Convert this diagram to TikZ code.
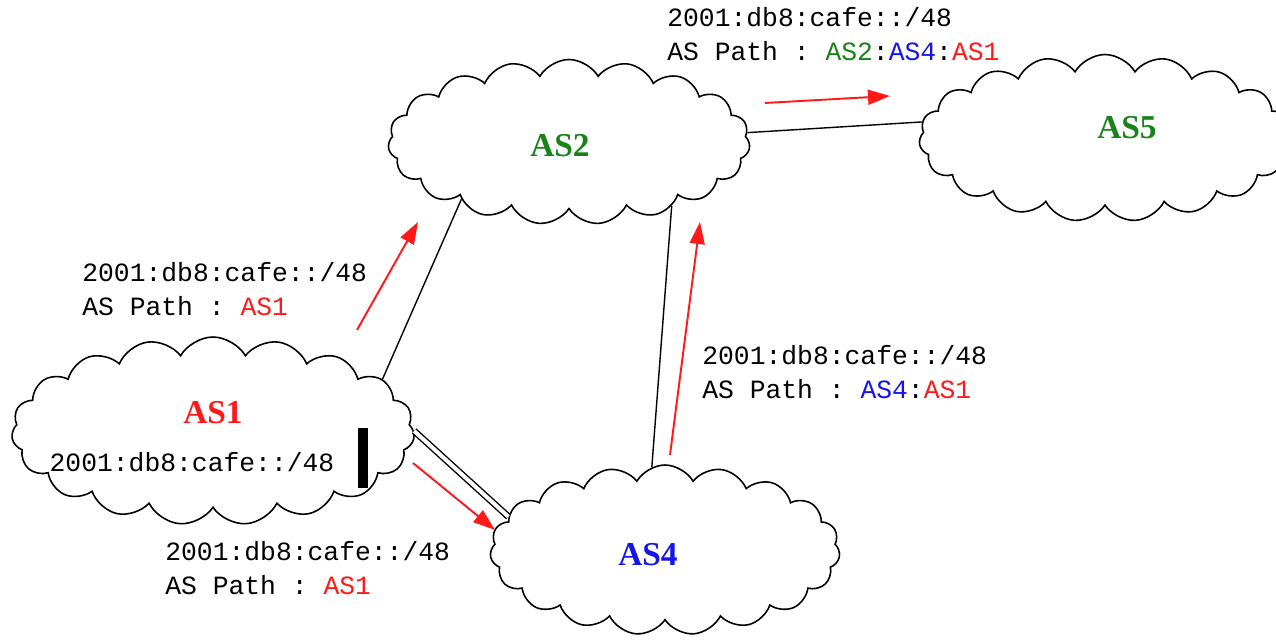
\documentclass[tikz,border=0pt]{standalone}
\usepackage{fontspec}
\setmainfont{Liberation Serif}
\setmonofont{Liberation Mono}
\usepackage{xcolor}
\usetikzlibrary{shapes.symbols,arrows.meta}
\definecolor{verde}{RGB}{25,130,25}
\definecolor{blu}{RGB}{20,20,235}
\definecolor{rosso}{RGB}{255,25,25}

\begin{document}
\begin{tikzpicture}[x=0.02cm, y=0.02cm,
    nuvola/.style={cloud, draw, line width=0.9pt, cloud puffs=19, cloud puff arc=120,
        cloud ignores aspect, inner sep=0pt},
    nomeas/.style={font=\fontsize{19}{22}\selectfont\bfseries},
    rotta/.style={font=\fontsize{15}{19.3}\selectfont\ttfamily, align=left, anchor=west, inner sep=0pt},
    annuncio/.style={-{Triangle[length=0.44cm, width=0.3cm]}, rosso, line width=1.1pt},
    link/.style={line width=0.8pt}]
                \useasboundingbox (0,0) rectangle (1276,644);

                % Nuvole
                \node[nuvola, minimum width=8.06cm, minimum height=3.76cm] (as1) at (213,213) {};
                \node[nuvola, minimum width=7.24cm, minimum height=3.3cm] (as2) at (569,502) {};
                \node[nuvola, minimum width=7.44cm, minimum height=3.34cm] (as5) at (1105,506) {};
                \node[nuvola, minimum width=7.0cm, minimum height=3.4cm] (as4) at (665,94) {};

                \node[nomeas, rosso] (as1nome) at (213,231) {AS1};
                \node[nomeas, verde] (as2nome) at (560,498) {AS2};
                \node[nomeas, verde] (as5nome) at (1127,516) {AS5};
                \node[nomeas, blu] (as4nome) at (648,89) {AS4};

                \node[font=\fontsize{15}{19.3}\selectfont\ttfamily] (as1pref) at (192,182) {2001:db8:cafe::/48};
                \fill (358,156) rectangle (368,216);

                % Collegamenti
                \draw[link] (as1.17) -- (as2.208);
                \draw[link, double, double distance=0.08cm] (as1.0) -- (as4.168);
                \draw[link] (as2.328) -- (as4.99);
                \draw[link] (as2.3) -- (as5.175);

                % Annunci
                \coordinate (a12s) at (357,314);
                \coordinate (a12e) at (418,422);
                \coordinate (a14s) at (413,181);
                \coordinate (a14e) at (495,114);
                \coordinate (a42s) at (670,189);
                \coordinate (a42e) at (700,422);
                \coordinate (a25s) at (765,541);
                \coordinate (a25e) at (890,548);
                \draw[annuncio] (a12s) -- (a12e);
                \draw[annuncio] (a14s) -- (a14e);
                \draw[annuncio] (a42s) -- (a42e);
                \draw[annuncio] (a25s) -- (a25e);

                \node[rotta] (r12) at (82,355) {2001:db8:cafe::/48\\AS Path : \textcolor{rosso}{AS1}};
                \node[rotta] (r14) at (165,76) {2001:db8:cafe::/48\\AS Path : \textcolor{rosso}{AS1}};
                \node[rotta] (r42) at (702,272) {2001:db8:cafe::/48\\AS Path : \textcolor{blu}{AS4}:\textcolor{rosso}{AS1}};
                \node[rotta] (r25) at (667,610) {2001:db8:cafe::/48\\AS Path : \textcolor{verde}{AS2}:\textcolor{blu}{AS4}:\textcolor{rosso}{AS1}};

\end{tikzpicture}
\end{document}
